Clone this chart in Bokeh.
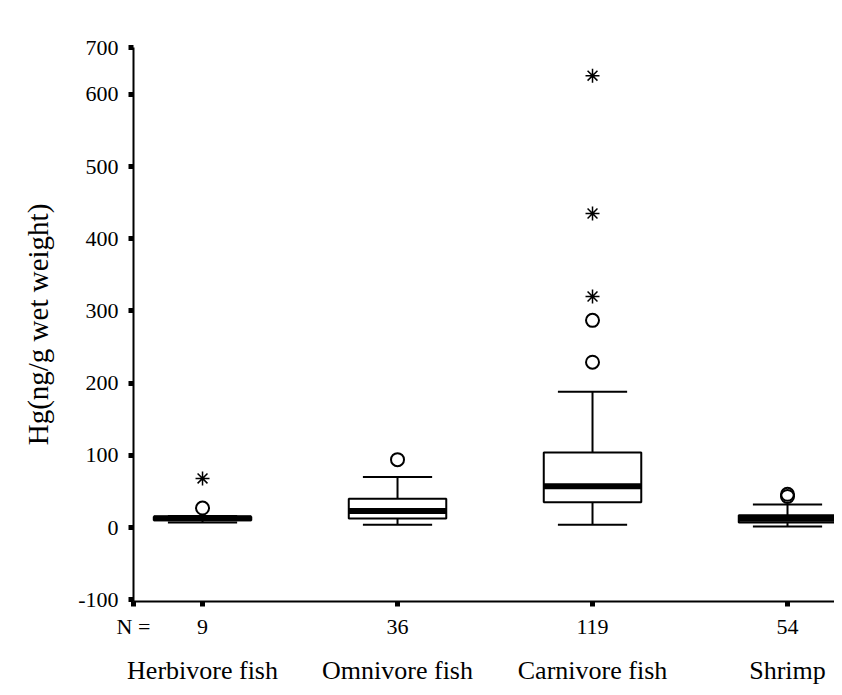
from bokeh.plotting import figure
from bokeh.models import Range1d, LinearAxis, FixedTicker
from bokeh.embed import file_html
from bokeh.resources import INLINE

categories = ["Herbivore fish", "Omnivore fish", "Carnivore fish", "Shrimp"]
counts = [9, 36, 119, 54]
q1 = [10, 12.5, 35, 7]
median = [13, 23, 57, 12]
q3 = [15, 40, 104, 17]
whisker_low = [7, 4, 4, 1.5]
whisker_high = [16, 70, 188, 32]
# outliers (circles) and extremes (asterisks): (category index, value)
outlier_cat = [0, 1, 2, 2, 3, 3]
outlier_val = [27, 94, 287, 229, 43, 46]
extreme_cat = [0, 2, 2, 2]
extreme_val = [68, 626, 435, 320]
y_ticks = [-100, 0, 100, 200, 300, 400, 500, 600]
y_top = 665
y_bottom = -102.5
x_start = -0.354
x_end = 3.241

FONT = "Liberation Serif"
xs = list(range(len(categories)))
box_w = 0.5
cap_w = 0.355

p = figure(frame_width=701, frame_height=554, output_backend="svg", toolbar_location=None,
           x_range=Range1d(x_start, x_end), y_range=Range1d(y_bottom, y_top),
           min_border_left=133, min_border_top=47, min_border_bottom=4,
           min_border_right=0, x_axis_location=None, y_axis_location=None)
p.outline_line_color = None
p.xgrid.visible = False
p.ygrid.visible = False
p.background_fill_color = "white"

# whiskers
p.segment(x0=xs, y0=q3, x1=xs, y1=whisker_high, line_color="black", line_width=2)
p.segment(x0=xs, y0=whisker_low, x1=xs, y1=q1, line_color="black", line_width=2)
p.segment(x0=[x - cap_w / 2 for x in xs], y0=whisker_high,
          x1=[x + cap_w / 2 for x in xs], y1=whisker_high, line_color="black", line_width=2)
p.segment(x0=[x - cap_w / 2 for x in xs], y0=whisker_low,
          x1=[x + cap_w / 2 for x in xs], y1=whisker_low, line_color="black", line_width=2)
# boxes
p.quad(left=[x - box_w / 2 for x in xs], right=[x + box_w / 2 for x in xs],
       bottom=q1, top=q3, fill_color="white", line_color="black", line_width=2)
# medians
p.segment(x0=[x - box_w / 2 for x in xs], y0=median,
          x1=[x + box_w / 2 for x in xs], y1=median, line_color="black", line_width=6)
# outliers
p.scatter(outlier_cat, outlier_val, marker="circle", size=13, fill_color=None,
          line_color="black", line_width=2)
p.scatter(extreme_cat, extreme_val, marker="asterisk", size=14,
          line_color="black", line_width=1.5)

# y axis
y_overrides = {t: str(t) for t in y_ticks}
y_overrides[y_top] = "700"
yax = LinearAxis(ticker=FixedTicker(ticks=y_ticks + [y_top]),
                 major_label_overrides=y_overrides,
                 axis_label="Hg(ng/g wet weight)")
yax.axis_line_width = 2
yax.major_tick_line_width = 5
yax.major_tick_out = 5
yax.major_tick_in = 0
yax.minor_tick_line_color = None
yax.major_label_text_font = FONT
yax.major_label_text_font_size = "22px"
yax.major_label_text_color = "black"
yax.major_label_standoff = 10
yax.axis_label_text_font = FONT
yax.axis_label_text_font_size = "29px"
yax.axis_label_text_font_style = "normal"
yax.axis_label_text_color = "black"
yax.axis_label_standoff = 21
p.add_layout(yax, "left")

# x axis with counts
n_overrides = {x_start: "N ="}
for i, c in enumerate(counts):
    n_overrides[i] = str(c)
xax = LinearAxis(ticker=FixedTicker(ticks=[x_start] + xs),
                 major_label_overrides=n_overrides)
xax.axis_line_width = 2
xax.major_tick_line_width = 5
xax.major_tick_out = 5
xax.major_tick_in = 0
xax.minor_tick_line_color = None
xax.major_label_text_font = FONT
xax.major_label_text_font_size = "22px"
xax.major_label_text_color = "black"
xax.major_label_standoff = 7
p.add_layout(xax, "below")

# category names axis
cax = LinearAxis(ticker=FixedTicker(ticks=xs),
                 major_label_overrides={i: c for i, c in enumerate(categories)})
cax.axis_line_color = None
cax.major_tick_line_color = None
cax.minor_tick_line_color = None
cax.major_label_text_font = FONT
cax.major_label_text_font_size = "26px"
cax.major_label_text_color = "black"
cax.major_label_standoff = 8
p.add_layout(cax, "below")

open("out.html", "w").write(file_html(p, INLINE))
